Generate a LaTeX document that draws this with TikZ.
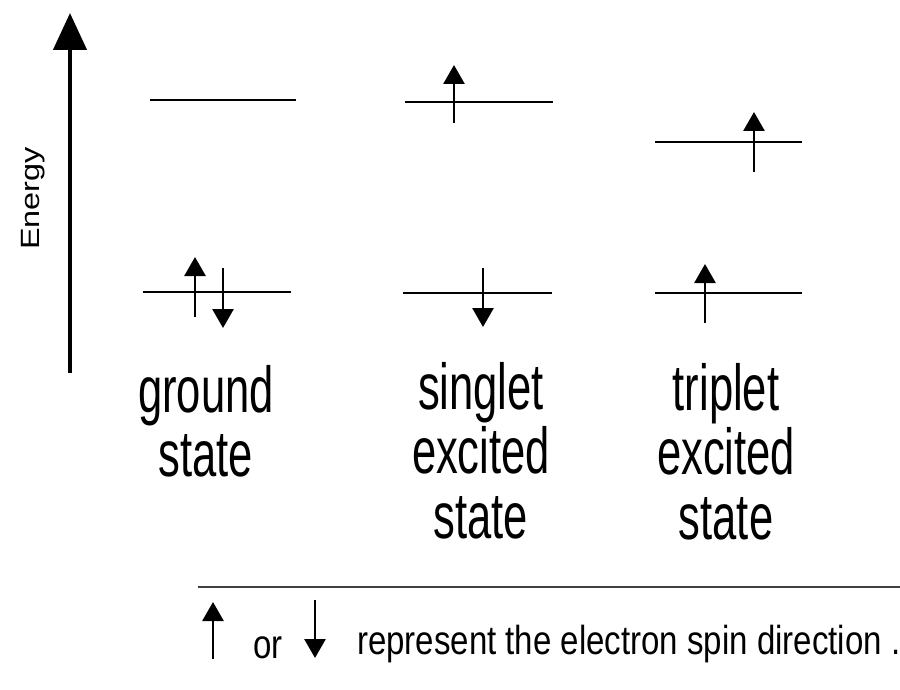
\documentclass[tikz,border=0pt]{standalone}
\usepackage{fontspec}
\setmainfont{Liberation Sans}
\newfontfamily\labelfont{Liberation Sans}[FakeStretch=0.67]
\newfontfamily\keyfont{Liberation Sans}[FakeStretch=0.815]
\newfontfamily\axisfont{Liberation Sans}[FakeStretch=1.23]
\usetikzlibrary{arrows.meta,positioning}
\begin{document}
\begin{tikzpicture}[x=1pt,y=-1pt,
  orbital/.style={line width=2.6pt},
  spin/.style={line width=2.8pt,-{Triangle[width=21pt,length=19pt]}},
  energyax/.style={line width=4.5pt,-{Triangle[width=33pt,length=37pt]}},
  statelabel/.style={align=center,anchor=north,inner sep=0pt,font=\labelfont\fontsize{65pt}{64.5pt}\selectfont},
  keytext/.style={anchor=base west,inner sep=0pt,font=\keyfont\fontsize{40.5pt}{48pt}\selectfont}]
\useasboundingbox (0,0) rectangle (900,690);
\fill[white] (0,0) rectangle (900,690);
% energy axis
\draw[energyax] (70,373) -- (70,13);
\node[rotate=90,anchor=base,inner sep=0pt,font=\axisfont\fontsize{26.4pt}{30pt}\selectfont] (energy) at (39,198.5) {Energy};
% ground state
\draw[orbital] (150,100) -- (296,100);
\draw[orbital] (143,292) -- (291,292);
\draw[spin] (195,317) -- (195,257);
\draw[spin] (223,268) -- (223,328);
% singlet excited state
\draw[orbital] (405,102) -- (553,102);
\draw[orbital] (403,293) -- (552,293);
\draw[spin] (454,123) -- (454,65);
\draw[spin] (483,268) -- (483,327);
% triplet excited state
\draw[orbital] (655,142) -- (802,142);
\draw[orbital] (655,293) -- (802,293);
\draw[spin] (754,172) -- (754,112);
\draw[spin] (705,323) -- (705,264);
% labels
\node[statelabel] (ground) at (206,365) {ground\\state};
\node[statelabel] (singlet) at (481,362) {singlet\\excited\\state};
\node[statelabel] (triplet) at (726,363) {triplet\\excited\\state};
% key
\draw[black!75,line width=1.5pt] (198,587) -- (900,587);
\draw[spin] (213,659) -- (213,602);
\node[keytext] (or) at (253,658) {or};
\draw[spin] (315,600) -- (315,658);
\node[keytext] (key) at (357,654) {represent the electron spin direction .};
\end{tikzpicture}
\end{document}
